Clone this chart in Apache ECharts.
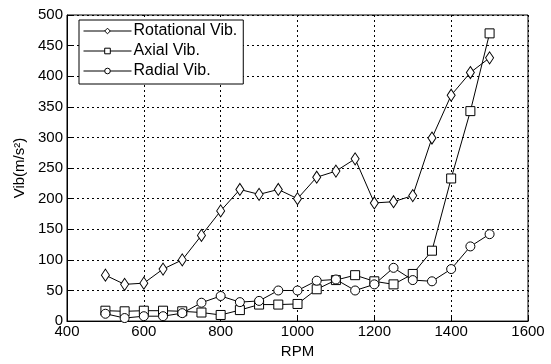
<!DOCTYPE html>
<html>
<head>
<meta charset="UTF-8">
<title>Vib vs RPM</title>
<script src="https://cdn.jsdelivr.net/npm/echarts@6/dist/echarts.min.js"></script>
<style>
  html,body{margin:0;padding:0;background:#fff;}
  #main{width:551px;height:364px;}
</style>
</head>
<body>
<div id="main"></div>
<script>
// data
var rpm = [500,550,600,650,700,750,800,850,900,950,1000,1050,1100,1150,1200,1250,1300,1350,1400,1450,1500];
var rotational = [75,60,62,85,100,140,180,215,207,215,200,235,245,265,193,195,205,299,369,406,430];
var axial = [17,16,17,17,16,14,10,18,27,27,28,52,67,75,65,60,77,115,233,343,470];
var radial = [12,5,8,8,13,30,41,31,33,50,50,66,68,50,60,87,67,65,85,122,142];
var names = ['Rotational Vib.','Axial Vib.','Radial Vib.'];

function pairs(ys){
  var out = [];
  for(var i=0;i<rpm.length;i++){ out.push([rpm[i], ys[i]]); }
  return out;
}

var font = 'Liberation Sans, Arial, sans-serif';
var myChart = echarts.init(document.getElementById('main'));

function mk(name, ys, sym, size){
  return {
    name: name, type: 'line', data: pairs(ys),
    symbol: sym, symbolSize: size, showSymbol: true,
    lineStyle: {color:'#000', width:1},
    itemStyle: {color:'#fff', borderColor:'#000', borderWidth:1},
    emphasis: {disabled:true},
    animation: false
  };
}

var option = {
  backgroundColor: '#fff',
  grid: {left:67, right:23, top:15, bottom:36, show:true, borderColor:'#000', borderWidth:1},
  legend: {
    data: names, orient:'vertical', left:79, top:20,
    backgroundColor:'#fff', borderColor:'#000', borderWidth:1,
    padding:[3,6,5,4], itemGap:4, itemWidth:48, itemHeight:7,
    lineStyle:{width:1, color:'#000'},
    itemStyle:{borderWidth:1},
    textStyle:{fontFamily:font, fontSize:16, color:'#000', padding:[0,0,0,-3]}
  },
  xAxis: {
    type:'value', min:400, max:1600, interval:200,
    name:'RPM', nameLocation:'middle', nameGap:22,
    nameTextStyle:{fontFamily:font, fontSize:15, color:'#000'},
    axisLine:{lineStyle:{color:'#000'}},
    axisTick:{inside:true, length:5, lineStyle:{color:'#000'}},
    axisLabel:{fontFamily:font, fontSize:15, color:'#000', margin:3,
      formatter:function(v){ return String(v); }},
    splitLine:{show:true, lineStyle:{color:'#000', type:[2,3], width:1}}
  },
  yAxis: {
    type:'value', min:0, max:500, interval:50,
    name:'Vib(m/s\u00b2)', nameLocation:'middle', nameGap:38,
    nameTextStyle:{fontFamily:font, fontSize:15, color:'#000'},
    axisLine:{lineStyle:{color:'#000'}},
    axisTick:{inside:true, length:5, lineStyle:{color:'#000'}},
    axisLabel:{fontFamily:font, fontSize:15, color:'#000', margin:4},
    splitLine:{show:true, lineStyle:{color:'#000', type:[2,3], width:1}}
  },
  series: [
    mk(names[0], rotational, 'diamond', [8,12]),
    mk(names[1], axial, 'rect', 9),
    mk(names[2], radial, 'circle', 9)
  ]
};
myChart.setOption(option);
</script>
</body>
</html>
